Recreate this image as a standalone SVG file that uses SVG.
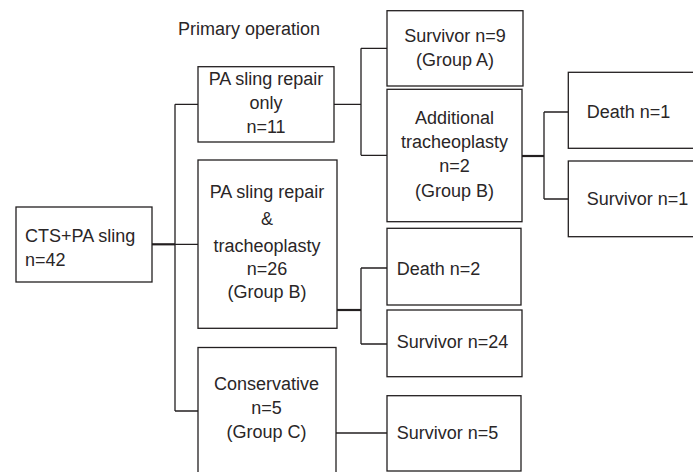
<svg xmlns="http://www.w3.org/2000/svg" width="693" height="472" viewBox="0 0 693 472">
<style>
.box{fill:#fff;stroke:#231f20;stroke-width:1.3}
.ln{fill:none;stroke:#231f20;stroke-width:1.3}
.th{fill:none;stroke:#231f20;stroke-width:2.2}
text{font-family:"Liberation Sans",Arial,sans-serif;font-size:18px;fill:#2a2627}
.c{text-anchor:middle}
</style>
<rect width="693" height="472" fill="#fff"/>
<text id="title" x="178" y="35">Primary operation</text>
<g id="connectors">
<path class="th" d="M152,244.3H175"/>
<path class="ln" d="M175,244.3H198 M175,104.3V411 M175,104.3H198 M175,411H198"/>
<path class="ln" d="M334,104.3H361 M361,48.3V155.3 M361,48.3H387 M361,155.3H387"/>
<path class="th" d="M522,156H544"/>
<path class="ln" d="M544,112V199 M544,112H568 M544,199H568"/>
<path class="th" d="M337,310H361"/>
<path class="ln" d="M361,268V344 M361,268H387 M361,344H387"/>
<path class="ln" d="M336,433H387"/>
</g>
<g id="n-cts">
<rect class="box" x="16" y="207" width="136" height="75"/>
<text x="25" y="241.7">CTS+PA sling</text>
<text x="25" y="266">n=42</text>
</g>
<g id="n-only">
<rect class="box" x="198" y="66.7" width="136" height="75.3"/>
<text class="c" x="266" y="85">PA sling repair</text>
<text class="c" x="266" y="108.5">only</text>
<text class="c" x="266" y="132.7">n=11</text>
</g>
<g id="n-trach">
<rect class="box" x="198" y="160" width="139" height="168.3"/>
<text class="c" x="267" y="198.3">PA sling repair</text>
<text class="c" x="267" y="225">&amp;</text>
<text class="c" x="267" y="251.7">tracheoplasty</text>
<text class="c" x="267" y="275">n=26</text>
<text class="c" x="267" y="297.7">(Group B)</text>
</g>
<g id="n-cons">
<rect class="box" x="198" y="347.5" width="138" height="140"/>
<text class="c" x="266.5" y="390">Conservative</text>
<text class="c" x="266.5" y="414">n=5</text>
<text class="c" x="266.5" y="438.3">(Group C)</text>
</g>
<g id="n-survA">
<rect class="box" x="387" y="10.7" width="136" height="75.3"/>
<text class="c" x="455" y="41.7">Survivor n=9</text>
<text class="c" x="455" y="66">(Group A)</text>
</g>
<g id="n-add">
<rect class="box" x="387" y="89.3" width="135" height="132.4"/>
<text class="c" x="454.5" y="124.3">Additional</text>
<text class="c" x="454.5" y="148.3">tracheoplasty</text>
<text class="c" x="454.5" y="172.3">n=2</text>
<text class="c" x="454.5" y="196.7">(Group B)</text>
</g>
<g id="n-death1">
<rect class="box" x="568.3" y="72.3" width="140" height="76"/>
<text x="586.7" y="118.3">Death n=1</text>
</g>
<g id="n-surv1">
<rect class="box" x="568.3" y="161" width="140" height="75.7"/>
<text x="586.7" y="205">Survivor n=1</text>
</g>
<g id="n-death2">
<rect class="box" x="387" y="228.3" width="134" height="76.7"/>
<text x="396.7" y="275">Death n=2</text>
</g>
<g id="n-surv24">
<rect class="box" x="387" y="310" width="135" height="66.7"/>
<text x="396.7" y="348.3">Survivor n=24</text>
</g>
<g id="n-surv5">
<rect class="box" x="387" y="395.7" width="134" height="75.3"/>
<text x="396.7" y="439">Survivor n=5</text>
</g>
</svg>
